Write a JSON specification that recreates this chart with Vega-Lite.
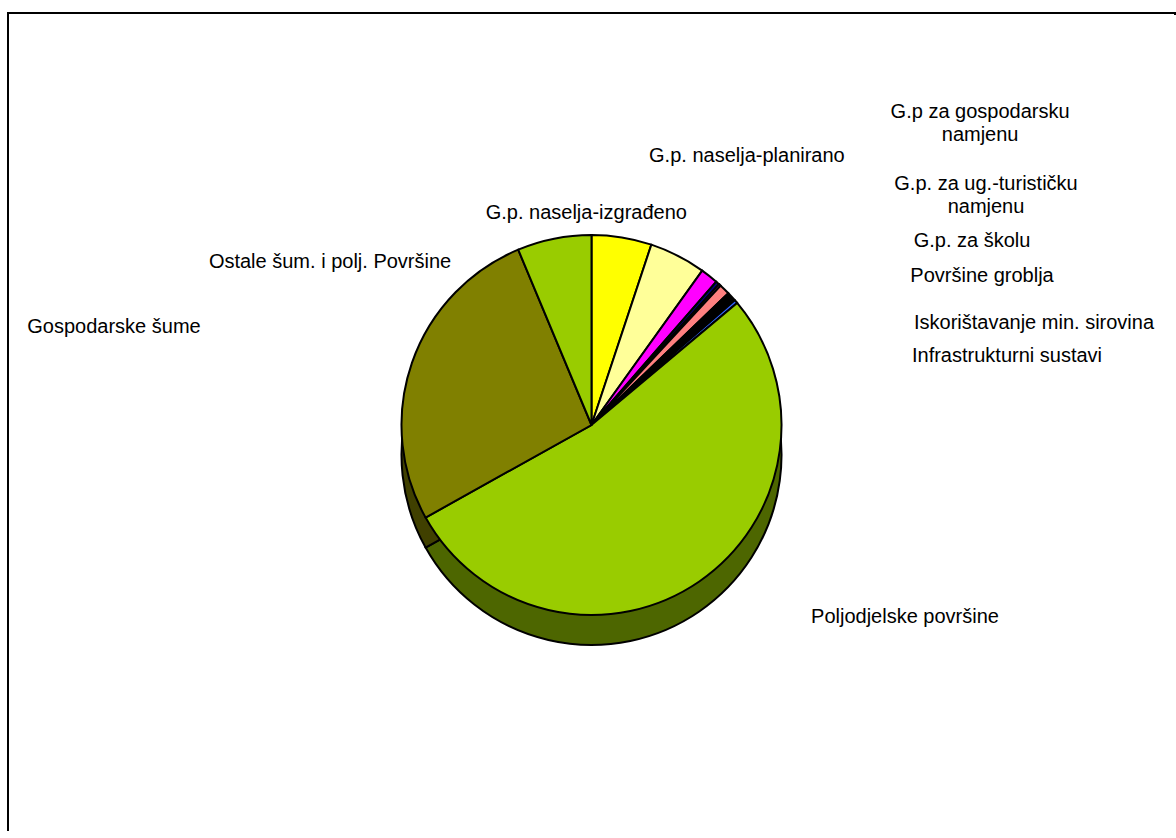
{
  "$schema": "https://vega.github.io/schema/vega-lite/v6.json",
  "width": 1176,
  "height": 838,
  "autosize": {"type": "fit", "contains": "padding"},
  "padding": {"left": 7, "top": 12, "right": 0, "bottom": 0},
  "background": "white",
  "config": {"view": {"stroke": null}, "font": "Liberation Sans"},
  "data": {"values": [
    {"category": "G.p. naselja-izgrađeno", "value": 5.1, "rank": 1},
    {"category": "G.p. naselja-planirano", "value": 4.8, "rank": 2},
    {"category": "G.p za gospodarsku\nnamjenu", "value": 1.5, "rank": 3},
    {"category": "G.p. za ug.-turističku\nnamjenu", "value": 0.3, "rank": 4},
    {"category": "G.p. za školu", "value": 0.2, "rank": 5},
    {"category": "Površine groblja", "value": 0.9, "rank": 6},
    {"category": "Iskorištavanje min. sirovina", "value": 0.8, "rank": 7},
    {"category": "Infrastrukturni sustavi", "value": 0.3, "rank": 8},
    {"category": "Poljodjelske površine", "value": 53.0, "rank": 9},
    {"category": "Gospodarske šume", "value": 26.8, "rank": 10},
    {"category": "Ostale šum. i polj. Površine", "value": 6.3, "rank": 11}
  ]},
  "layer": [
    {
      "data": {"values": [{"frame": "chart area"}]},
      "mark": {"type": "rect", "fill": "white", "fillOpacity": 0, "stroke": "black", "strokeWidth": 2, "strokeDash": [1169, 1995, 826, 0]},
      "encoding": {}
    },
    {
      "mark": {"type": "arc", "outerRadius": 190, "stroke": "black", "strokeWidth": 2, "y": {"expr": "height / 2 + 30"}},
      "encoding": {
        "theta": {"field": "value", "type": "quantitative", "stack": true},
        "order": {"field": "rank", "type": "quantitative"},
        "color": {
          "field": "category",
          "type": "nominal",
          "legend": null,
          "scale": {
            "domain": [
              "G.p. naselja-izgrađeno",
              "G.p. naselja-planirano",
              "G.p za gospodarsku\nnamjenu",
              "G.p. za ug.-turističku\nnamjenu",
              "G.p. za školu",
              "Površine groblja",
              "Iskorištavanje min. sirovina",
              "Infrastrukturni sustavi",
              "Poljodjelske površine",
              "Gospodarske šume",
              "Ostale šum. i polj. Površine"
            ],
            "range": ["#808000", "#80804C", "#800080", "#000040", "#400040", "#804040", "#000000", "#1A3380", "#4D6600", "#404000", "#4D6600"]
          }
        }
      }
    },
    {
      "mark": {"type": "arc", "outerRadius": 190, "stroke": "black", "strokeWidth": 2},
      "encoding": {
        "theta": {"field": "value", "type": "quantitative", "stack": true},
        "order": {"field": "rank", "type": "quantitative"},
        "fill": {
          "field": "category",
          "type": "nominal",
          "legend": null,
          "scale": {
            "domain": [
              "G.p. naselja-izgrađeno",
              "G.p. naselja-planirano",
              "G.p za gospodarsku\nnamjenu",
              "G.p. za ug.-turističku\nnamjenu",
              "G.p. za školu",
              "Površine groblja",
              "Iskorištavanje min. sirovina",
              "Infrastrukturni sustavi",
              "Poljodjelske površine",
              "Gospodarske šume",
              "Ostale šum. i polj. Površine"
            ],
            "range": ["#FFFF00", "#FFFF99", "#FF00FF", "#000080", "#800080", "#FF8080", "#000000", "#3366FF", "#99CC00", "#808000", "#99CC00"]
          }
        }
      }
    },
    {
      "mark": {"type": "text", "fontSize": 20, "lineBreak": "\n", "lineHeight": 23, "align": "center", "baseline": "middle", "color": "black"},
      "encoding": {
        "theta": {
          "field": "rank",
          "type": "quantitative",
          "stack": null,
          "scale": {
            "type": "linear",
            "zero": false,
            "nice": false,
            "domain": [1, 2, 3, 4, 5, 6, 7, 8, 9, 10, 11],
            "range": [-0.0245, 0.5238, 0.893, 1.0224, 1.1205, 1.2063, 1.3443, 1.4062, 2.1203, 4.9148, 5.2698]
          }
        },
        "radius": {
          "field": "rank",
          "type": "quantitative",
          "scale": {
            "type": "linear",
            "zero": false,
            "nice": false,
            "domain": [1, 2, 3, 4, 5, 6, 7, 8, 9, 10, 11],
            "range": [212, 310.7, 498.9, 462.3, 422.7, 418.0, 454.1, 421.2, 367.6, 487.5, 308.1]
          }
        },
        "text": {"field": "category"}
      }
    }
  ],
  "resolve": {"scale": {"theta": "independent", "color": "independent", "fill": "independent"}}
}
